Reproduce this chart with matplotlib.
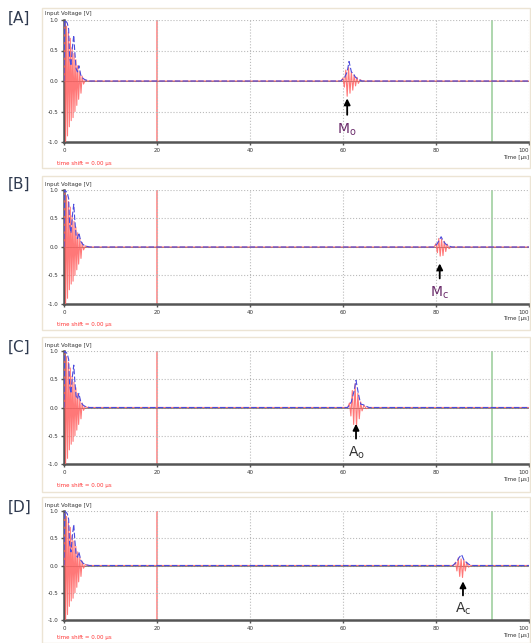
import matplotlib

matplotlib.use("Agg")
import matplotlib.pyplot as plt
from matplotlib.patches import Rectangle

# shared excitation burst near t = 0 (us, V)
burst_red_t = [0, 0.15, 0.35, 0.55, 0.75, 0.95, 1.15, 1.35, 1.55, 1.75, 1.95, 2.15,
               2.35, 2.55, 2.75, 2.95, 3.15, 3.4, 3.65, 3.9, 4.2, 4.6, 5.0]
burst_red_v = [0, 0.95, -1.0, 0.9, -0.9, 0.8, -0.75, 0.7, -0.65, 0.55, -0.6, 0.45,
               -0.5, 0.35, -0.4, 0.25, -0.3, 0.15, -0.2, 0.08, -0.05, 0.02, 0]
burst_blue_t = [0, 0.15, 0.4, 0.7, 1.0, 1.2, 1.5, 1.8, 2.1, 2.3, 2.6, 2.9, 3.2, 3.6, 4.0, 4.5, 5.5]
burst_blue_v = [0, 1.0, 0.98, 0.95, 0.85, 0.4, 0.25, 0.55, 0.75, 0.5, 0.2, 0.15, 0.25, 0.1, 0.05, 0.02, 0]

# echo packets per panel
panel_names = ["[A]", "[B]", "[C]", "[D]"]
echo_labels = [r"$\mathregular{M_o}$", r"$\mathregular{M_c}$", r"$\mathregular{A_o}$", r"$\mathregular{A_c}$"]
echo_label_colors = ["#6a2a6a", "#6a2a6a", "#333333", "#333333"]
echo_arrow_t = [60.9, 80.8, 62.8, 85.8]

echo_red_t = [
    [59.6, 60.0, 60.3, 60.6, 60.9, 61.2, 61.5, 61.8, 62.1, 62.4, 62.7, 63.0, 63.3, 63.7, 64.2],
    [79.6, 80.0, 80.3, 80.6, 80.9, 81.2, 81.5, 81.8, 82.1, 82.4, 82.8, 83.3],
    [61.0, 61.4, 61.7, 62.0, 62.3, 62.6, 62.9, 63.2, 63.5, 63.8, 64.1, 64.5, 65.0, 65.6],
    [83.8, 84.2, 84.5, 84.8, 85.1, 85.4, 85.7, 86.0, 86.3, 86.6, 87.0, 87.5],
]
echo_red_v = [
    [0, 0.05, -0.1, 0.18, -0.25, 0.22, -0.2, 0.15, -0.15, 0.1, -0.08, 0.06, -0.04, 0.02, 0],
    [0, 0.06, -0.1, 0.15, -0.16, 0.14, -0.15, 0.1, -0.08, 0.05, -0.03, 0],
    [0, 0.08, -0.15, 0.3, -0.3, 0.42, -0.35, 0.25, -0.2, 0.1, -0.06, 0.04, -0.02, 0],
    [0, 0.06, -0.1, 0.14, -0.2, 0.12, -0.22, 0.1, -0.1, 0.06, -0.03, 0],
]
echo_blue_t = [
    [59.5, 60.3, 60.9, 61.3, 61.8, 62.2, 62.7, 63.3, 64.0],
    [79.5, 80.2, 80.7, 81.1, 81.6, 82.1, 82.7, 83.4],
    [61.0, 61.8, 62.4, 62.8, 63.3, 63.8, 64.3, 64.8, 65.6],
    [83.6, 84.4, 85.0, 85.5, 86.0, 86.5, 87.1, 87.8],
]
echo_blue_v = [
    [0, 0.05, 0.15, 0.32, 0.15, 0.12, 0.06, 0.03, 0],
    [0, 0.05, 0.12, 0.18, 0.1, 0.05, 0.02, 0],
    [0, 0.1, 0.3, 0.48, 0.25, 0.06, 0.05, 0.03, 0],
    [0, 0.06, 0.15, 0.2, 0.1, 0.06, 0.02, 0],
]

x_ticks = [0, 20, 40, 60, 80, 100]
y_ticks = [-1.0, -0.5, 0.0, 0.5, 1.0]
red_marker_t = 20
green_marker_t = 92

# axes boxes in pixels: (top of +1.0, bottom of -1.0)
W, H = 531, 643
ax_px = [(20, 142), (190, 304), (351, 464), (511, 620)]
frame_px = [(8, 168), (176, 330), (337, 492), (497, 643)]
letter_y = [18, 184, 347, 507]
shift_px = [21, 21, 21, 17]

fig = plt.figure(figsize=(W / 100, H / 100), dpi=100)

for i in range(4):
    top, bot = ax_px[i]
    h_px = bot - top
    ax = fig.add_axes([64 / W, 1 - bot / H, 465 / W, h_px / H])

    # light panel frame
    ftop, fbot = frame_px[i]
    fig.add_artist(Rectangle((42 / W, 1 - fbot / H), 488 / W, (fbot - ftop) / H,
                             transform=fig.transFigure, fill=False, edgecolor="#ece4d4", lw=1.0))

    red_t = burst_red_t + [10, 50] + echo_red_t[i] + [100]
    red_v = burst_red_v + [0, 0] + echo_red_v[i] + [0]
    blue_t = burst_blue_t + [10, 50] + echo_blue_t[i] + [100]
    blue_v = burst_blue_v + [0, 0] + echo_blue_v[i] + [0]

    ax.axvline(red_marker_t, color="#ff9a9a", lw=1.4, zorder=1)
    ax.axvline(green_marker_t, color="#9fd09f", lw=1.2, zorder=1)
    ax.plot(red_t, red_v, color="#ff6060", lw=0.8, alpha=0.85, zorder=3)
    ax.plot(blue_t, blue_v, color="#4b4bdd", lw=0.8, dashes=(5, 2), zorder=4)

    ax.set_xlim(0, 100)
    ax.set_ylim(-1.0, 1.0)
    ax.set_xticks(x_ticks)
    ax.set_yticks(y_ticks)
    ax.set_xticklabels([str(t) for t in x_ticks])
    ax.get_xticklabels()[-1].set_horizontalalignment("right")
    ax.set_yticklabels(["-1.0", "-0.5", "0.0", "0.5", "1.0"])
    ax.tick_params(labelsize=4, length=2.5, width=1, color="#555555", labelcolor="#333333", pad=1.5)
    ax.grid(True, linestyle=":", color="#bbbbbb", lw=0.8)
    for side in ["top", "right"]:
        ax.spines[side].set_visible(False)
    for side in ["left", "bottom"]:
        ax.spines[side].set_color("#555555")
        ax.spines[side].set_linewidth(1.8)
    ax.axhline(0, color="#777777", lw=0.6, zorder=2)

    ax.text(-0.04, 1.03, "Input Voltage [V]", transform=ax.transAxes, fontsize=4, color="#333333",
            ha="left", va="bottom")
    ax.text(1.0, -15 / h_px, "Time [µs]", transform=ax.transAxes, fontsize=4, color="#333333",
            ha="right", va="center")
    ax.text(-0.015, -shift_px[i] / h_px, "time shift = 0.00 µs", transform=ax.transAxes, fontsize=4,
            color="#ff3333", ha="left", va="center")

    ax.annotate("", xy=(echo_arrow_t[i], -0.24), xytext=(echo_arrow_t[i], -0.6),
                arrowprops=dict(arrowstyle="-|>", color="black", lw=1.3, mutation_scale=9), zorder=6)
    ax.text(echo_arrow_t[i], -0.8, echo_labels[i], fontsize=10, color=echo_label_colors[i],
            ha="center", va="center", zorder=6)

    fig.text(8 / W, 1 - letter_y[i] / H, panel_names[i], fontsize=11, color="#2f3a4f",
             ha="left", va="center")

fig.savefig("out.png", dpi=100)
